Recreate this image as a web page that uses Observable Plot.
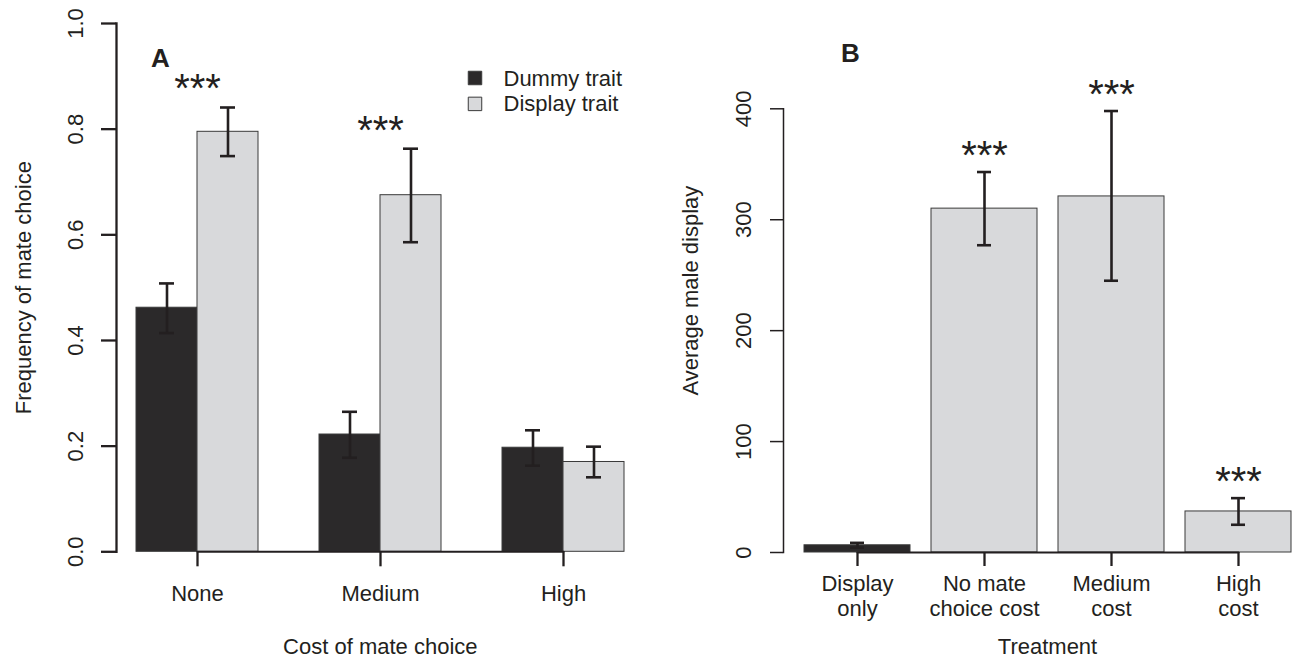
<!DOCTYPE html>
<html><head><meta charset="utf-8">
<script src="https://cdn.jsdelivr.net/npm/d3@7"></script>
<script src="https://cdn.jsdelivr.net/npm/@observablehq/plot@0.6"></script>
<style>
html,body{margin:0;padding:0;background:#fff;overflow:hidden;}
#wrap{position:relative;width:1292px;height:660px;background:#fff;}
.panel{position:absolute;top:0;height:660px;overflow:hidden;}
.panel svg{position:absolute;left:0;top:0;max-width:none !important;}
</style></head><body>
<div id="wrap"><div id="pa" class="panel" style="left:0;width:660px"></div><div id="pb" class="panel" style="left:660px;width:632px"></div></div>
<script>
// ---------- Panel A data ----------
const costLevels = ["None", "Medium", "High"];
const traits = ["Dummy trait", "Display trait"];
const dummyMean = [0.462, 0.222, 0.197];
const dummyLo = [0.414, 0.178, 0.163];
const dummyHi = [0.508, 0.265, 0.230];
const displayMean = [0.795, 0.675, 0.170];
const displayLo = [0.749, 0.586, 0.141];
const displayHi = [0.841, 0.763, 0.199];
const starsA = ["***", "***", ""];
const yTicksA = [0, 0.2, 0.4, 0.6, 0.8, 1.0];

// ---------- Panel B data ----------
const treatments = ["Display only", "No mate choice cost", "Medium cost", "High cost"];
const treatmentLabels = ["Display\nonly", "No mate\nchoice cost", "Medium\ncost", "High\ncost"];
const treatmentKind = ["No mate choice", "Mate choice", "Mate choice", "Mate choice"];
const displayB = [6.5, 310, 321, 37];
const displayBLo = [4.3, 277, 245, 25];
const displayBHi = [8.7, 343, 398, 49];
const starsB = ["", "***", "***", "***"];
const yTicksB = [0, 100, 200, 300, 400];

// ---------- styles ----------
const INK = "#231f20";
const DARK = "#2b292a";
const LIGHT = "#d8d9db";
const EDGE = "#3a3a3a";
const FONT = "'Liberation Sans', Arial, Helvetica, sans-serif";
const baseStyle = {background: "transparent", fontFamily: FONT, fontSize: "22px", color: INK, overflow: "visible", maxWidth: "none"};

// ---------- Panel A ----------
const rowsA = costLevels.flatMap((c, i) => [
  {cost: c, trait: traits[0], mean: dummyMean[i], lo: dummyLo[i], hi: dummyHi[i]},
  {cost: c, trait: traits[1], mean: displayMean[i], lo: displayLo[i], hi: displayHi[i]}
]);
const starRowsA = costLevels.map((c, i) => ({cost: c, top: Math.max(dummyHi[i], displayHi[i]), stars: starsA[i]}));

const geoA = {width: 660, height: 660, marginLeft: 116, marginRight: 16.4, marginTop: 23, marginBottom: 108.7};
const padIn = 1 / 3, padOut = 0.105;

const barsA = Plot.plot({
  ...geoA,
  style: baseStyle,
  facet: {data: rowsA, x: "cost", marginLeft: 0, marginRight: 0, label: null},
  fx: {domain: costLevels, paddingInner: padIn, paddingOuter: padOut, axis: null, label: null},
  x: {domain: traits, padding: 0, axis: null},
  y: {domain: [0, 1], axis: null},
  color: {domain: traits, range: [DARK, LIGHT]},
  marks: [
    Plot.barY(rowsA, {x: "trait", y: "mean", fill: "trait", stroke: EDGE, strokeWidth: 1}),
    Plot.ruleX(rowsA, {x: "trait", y1: "lo", y2: "hi", stroke: INK, strokeWidth: 2.6}),
    Plot.tickY(rowsA, {x: "trait", y: "lo", stroke: INK, strokeWidth: 2.6, inset: 23}),
    Plot.tickY(rowsA, {x: "trait", y: "hi", stroke: INK, strokeWidth: 2.6, inset: 23})
  ]
});

const overA = Plot.plot({
  ...geoA,
  style: baseStyle,
  x: {type: "point", domain: costLevels, padding: padOut + (1 - padIn) / 2, axis: null, label: null},
  y: {domain: [0, 1], axis: null, label: null},
  color: {domain: traits, range: [DARK, LIGHT]},
  marks: [
    Plot.frame({anchor: "left", stroke: INK, strokeWidth: 2.3}),
    Plot.axisY({ticks: yTicksA, tickSize: 15, tickPadding: 18.5, tickRotate: -90, tickFormat: d3.format(".1f"), fontSize: 22, strokeWidth: 2.3, color: INK, label: null}),
    Plot.line(costLevels, {x: d => d, y: () => 0, stroke: INK, strokeWidth: 2}),
    Plot.axisX({tickSize: 15, tickPadding: 18.6, fontSize: 22, strokeWidth: 2.3, color: INK, label: null}),
    Plot.text(starRowsA, {x: "cost", y: "top", text: "stars", fontSize: 40, lineAnchor: "bottom", dy: -5, fill: INK}),
    Plot.text(["A"], {text: d => d, frameAnchor: "top-left", dx: 44, dy: 35, fontWeight: "bold", fontSize: 26, lineAnchor: "middle", textAnchor: "middle", fill: INK}),
    ...traits.map((t, i) => Plot.dot([t], {frameAnchor: "top-left", dx: 358.5, dy: 54.5 + 25.9 * i, symbol: "square", r: 7.6, fill: d => d, stroke: EDGE, strokeWidth: 1})),
    ...traits.map((t, i) => Plot.text([t], {text: d => d, frameAnchor: "top-left", dx: 387, dy: 55 + 25.9 * i, textAnchor: "start", lineAnchor: "middle", fontSize: 22, fill: INK})),
    Plot.text(["Frequency of mate choice"], {text: d => d, frameAnchor: "left", dx: -93, rotate: -90, textAnchor: "middle", lineAnchor: "middle", fontSize: 22, fill: INK}),
    Plot.text(["Cost of mate choice"], {text: d => d, frameAnchor: "bottom", dy: 94.7, textAnchor: "middle", lineAnchor: "middle", fontSize: 22, fill: INK})
  ]
});

// ---------- Panel B ----------
const rowsB = treatments.map((t, i) => ({treatment: t, kind: treatmentKind[i], mean: displayB[i], lo: displayBLo[i], hi: displayBHi[i], stars: starsB[i]}));

const plotB = Plot.plot({
  width: 651, height: 660, marginLeft: 123, marginRight: 0, marginTop: 108.3, marginBottom: 108,
  style: baseStyle,
  x: {domain: treatments, paddingInner: 1 / 6, paddingOuter: 0.1474, axis: null, label: null},
  y: {domain: [0, 400], axis: null, label: null},
  color: {domain: ["No mate choice", "Mate choice"], range: [DARK, LIGHT]},
  marks: [
    Plot.frame({anchor: "left", stroke: INK, strokeWidth: 1.5}),
    Plot.axisY({ticks: yTicksB, tickSize: 13, tickPadding: 19.5, tickRotate: -90, fontSize: 22, strokeWidth: 1.5, color: INK, label: null}),
    Plot.barY(rowsB, {x: "treatment", y: "mean", fill: "kind", stroke: EDGE, strokeWidth: 1}),
    Plot.line(treatments, {x: d => d, y: () => 0, stroke: INK, strokeWidth: 2}),
    Plot.ruleX(rowsB, {x: "treatment", y1: "lo", y2: "hi", stroke: INK, strokeWidth: 2.6}),
    Plot.tickY(rowsB, {x: "treatment", y: "lo", stroke: INK, strokeWidth: 2.6, inset: 46}),
    Plot.tickY(rowsB, {x: "treatment", y: "hi", stroke: INK, strokeWidth: 2.6, inset: 46}),
    Plot.axisX({tickSize: 14, tickPadding: 6.3, fontSize: 22, lineHeight: 1.14, strokeWidth: 2.3, color: INK, label: null,
      tickFormat: d => treatmentLabels[treatments.indexOf(d)]}),
    Plot.text(rowsB, {x: "treatment", y: "hi", text: "stars", fontSize: 40, lineAnchor: "bottom", dy: -3, fill: INK}),
    Plot.text(["B"], {text: d => d, frameAnchor: "top-left", dx: 67, dy: -55.3, fontWeight: "bold", fontSize: 26, lineAnchor: "middle", textAnchor: "middle", fill: INK}),
    Plot.text(["Average male display"], {text: d => d, frameAnchor: "left", dx: -93, dy: -40, rotate: -90, textAnchor: "middle", lineAnchor: "middle", fontSize: 22, fill: INK}),
    Plot.text(["Treatment"], {text: d => d, frameAnchor: "bottom", dy: 94, textAnchor: "middle", lineAnchor: "middle", fontSize: 22, fill: INK})
  ]
});

document.getElementById("pa").append(barsA, overA);
document.getElementById("pb").append(plotB);
</script>
</body></html>
